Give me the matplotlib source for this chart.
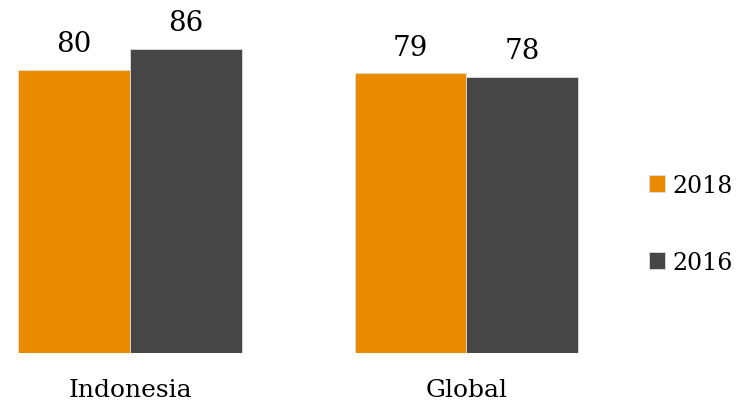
import matplotlib.pyplot as plt

regions = ['Indonesia', 'Global']
years = ['2018', '2016']
values_2018 = [80, 79]
values_2016 = [86, 78]

orange = '#EB8C00'
grey = '#464646'

plt.rcParams['font.family'] = ['DejaVu Serif']

fig = plt.figure(figsize=(7.36, 4.02), dpi=100)
# axes span the full width; baseline sits 48 px above the bottom edge
ax = fig.add_axes([0, 48 / 402, 1, 354 / 402])

w = 112 / 336.5
x = [0, 1]
b1 = ax.bar([i - w / 2 for i in x], values_2018, w, color=orange,
            edgecolor='#dddddd', linewidth=0.6, label=years[0])
b2 = ax.bar([i + w / 2 for i in x], values_2016, w, color=grey,
            edgecolor='#dddddd', linewidth=0.6, label=years[1])

ax.bar_label(b1, padding=9, fontsize=20)
ax.bar_label(b2, padding=9, fontsize=20)

ax.set_xlim(-130 / 336.5, (736 - 130) / 336.5)
ax.set_ylim(0, 100)
ax.set_xticks(x)
ax.set_xticklabels(regions, fontsize=18)
ax.tick_params(axis='x', length=0, pad=18)
ax.set_yticks([])
for s in ax.spines.values():
    s.set_visible(False)

ax.legend(loc='center left', bbox_to_anchor=(637 / 736, 0.365), frameon=False,
          fontsize=17, handlelength=0.7, handleheight=0.7, handletextpad=0.3,
          labelspacing=2.3, borderpad=0)

fig.savefig('out.png', dpi=100)
